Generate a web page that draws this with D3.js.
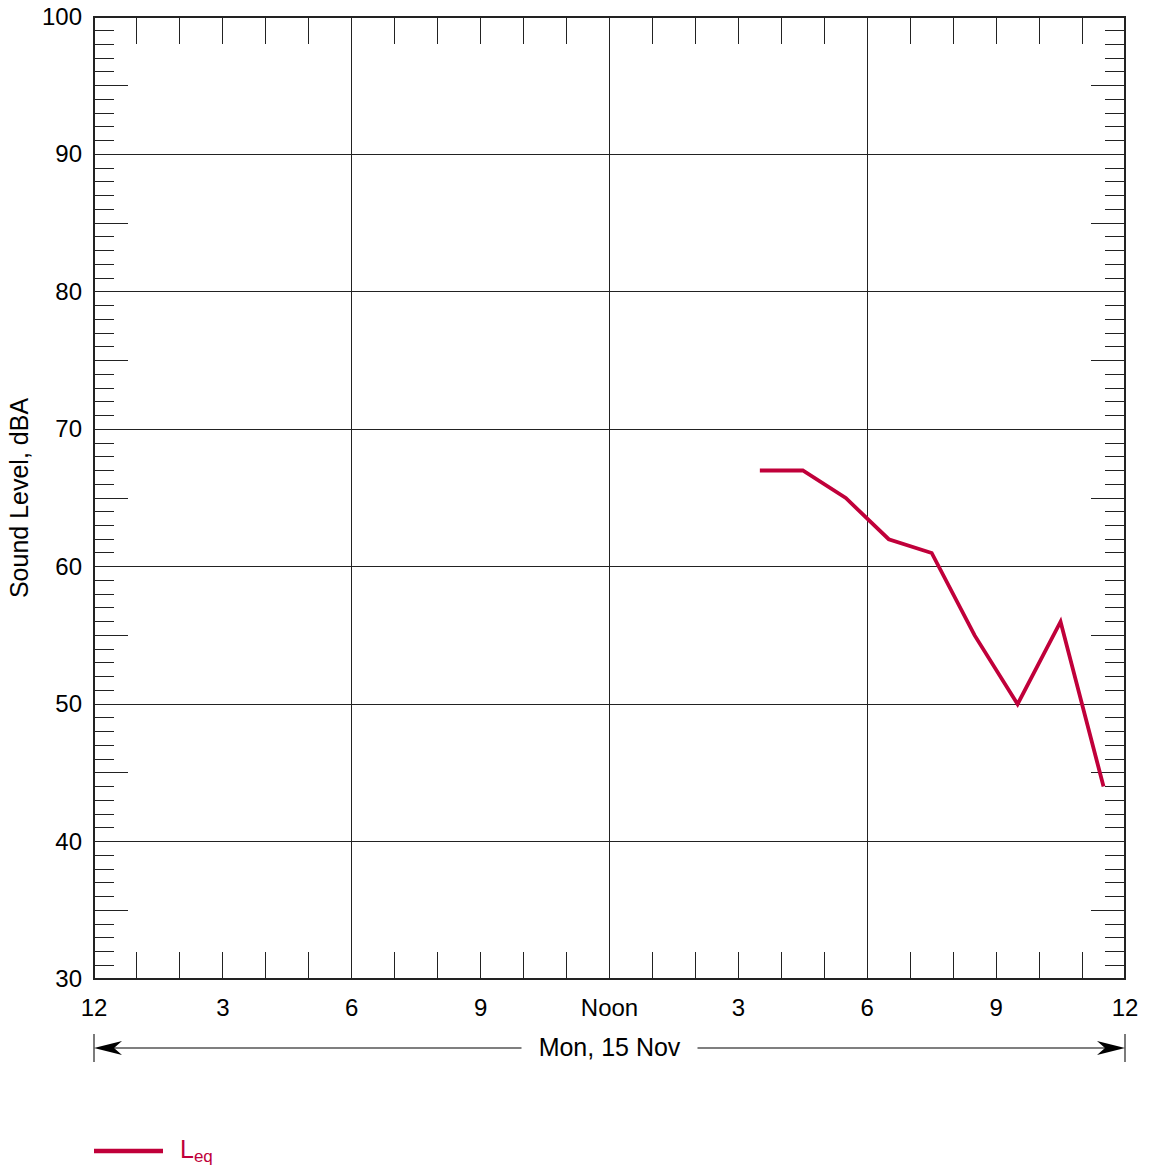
<!DOCTYPE html>
<html><head><meta charset="utf-8">
<script src="https://cdn.jsdelivr.net/npm/d3@7"></script>
<style>body{margin:0;background:#fff}svg{display:block;font-family:"Liberation Sans",Arial,sans-serif}</style>
</head><body><svg id="c" width="1152" height="1168"></svg>
<script>
const hours = [15.5, 16.5, 17.5, 18.5, 19.5, 20.5, 21.5, 22.5, 23.5];
const leq = [67, 67, 65, 62, 61, 55, 50, 56, 44];
const xTickHours = [0, 3, 6, 9, 12, 15, 18, 21, 24];
const xTickLabels = ["12", "3", "6", "9", "Noon", "3", "6", "9", "12"];
const xGridHours = [6, 12, 18];
const yTicks = [30, 40, 50, 60, 70, 80, 90, 100];
const dayLabel = "Mon, 15 Nov";
const yTitle = "Sound Level, dBA";
const seriesName = "L", seriesSub = "eq";

const svg = d3.select("#c");
const L = 94, R = 1125, T = 17, B = 979;
const x = d3.scaleLinear().domain([0, 24]).range([L, R]);
const y = d3.scaleLinear().domain([30, 100]).range([B, T]);
const red = "#c0003a", ink = "#222";
const FS = 24, FT = 25;

const g = svg.append("g");
// grid
g.selectAll(".gx").data(xGridHours).join("line")
  .attr("x1", d => x(d)).attr("x2", d => x(d)).attr("y1", T).attr("y2", B)
  .attr("stroke", ink).attr("stroke-width", 1).attr("shape-rendering", "crispEdges");
g.selectAll(".gy").data(yTicks.slice(1, -1)).join("line")
  .attr("y1", d => y(d)).attr("y2", d => y(d)).attr("x1", L).attr("x2", R)
  .attr("stroke", ink).attr("stroke-width", 1).attr("shape-rendering", "crispEdges");

// hourly x ticks (top & bottom, inside)
const hrs = d3.range(1, 24).filter(h => h % 6 !== 0);
g.selectAll(".tt").data(hrs).join("line")
  .attr("x1", d => x(d)).attr("x2", d => x(d)).attr("y1", T).attr("y2", T + 27)
  .attr("stroke", ink).attr("shape-rendering", "crispEdges");
g.selectAll(".tb").data(hrs).join("line")
  .attr("x1", d => x(d)).attr("x2", d => x(d)).attr("y1", B).attr("y2", B - 27)
  .attr("stroke", ink).attr("shape-rendering", "crispEdges");

// minor y ticks (1 dB), longer at 5s
const dbs = d3.range(31, 100).filter(v => v % 10 !== 0);
const len = v => v % 5 === 0 ? 34 : 20;
g.selectAll(".tl").data(dbs).join("line")
  .attr("y1", d => y(d)).attr("y2", d => y(d)).attr("x1", L).attr("x2", d => L + len(d))
  .attr("stroke", ink).attr("shape-rendering", "crispEdges");
g.selectAll(".tr").data(dbs).join("line")
  .attr("y1", d => y(d)).attr("y2", d => y(d)).attr("x1", R).attr("x2", d => R - len(d))
  .attr("stroke", ink).attr("shape-rendering", "crispEdges");

// frame
g.append("rect").attr("x", L).attr("y", T).attr("width", R - L).attr("height", B - T)
  .attr("fill", "none").attr("stroke", ink).attr("stroke-width", 1.2).attr("shape-rendering", "crispEdges");

// axis labels
svg.append("g").selectAll("text").data(yTicks).join("text")
  .attr("x", 82).attr("y", d => y(d) + 8).attr("text-anchor", "end")
  .attr("font-size", FS).attr("fill", "#000").text(d => d);
svg.append("g").selectAll("text").data(xTickHours).join("text")
  .attr("x", d => x(d)).attr("y", 1016).attr("text-anchor", "middle")
  .attr("font-size", FS).attr("fill", "#000").text((d, i) => xTickLabels[i]);

svg.append("text").attr("transform", `translate(28,${(T + B) / 2}) rotate(-90)`)
  .attr("text-anchor", "middle").attr("font-size", FT).attr("fill", "#000").text(yTitle);

// day arrow
const ay = 1048;
svg.append("line").attr("x1", L).attr("x2", L).attr("y1", ay - 14).attr("y2", ay + 14).attr("stroke", ink).attr("stroke-width", 1.2);
svg.append("line").attr("x1", R).attr("x2", R).attr("y1", ay - 14).attr("y2", ay + 14).attr("stroke", ink).attr("stroke-width", 1.2);
svg.append("line").attr("x1", L + 4).attr("x2", x(12) - 88).attr("y1", ay).attr("y2", ay).attr("stroke", "#000").attr("stroke-width", 1.2);
svg.append("line").attr("x1", x(12) + 88).attr("x2", R - 4).attr("y1", ay).attr("y2", ay).attr("stroke", "#000").attr("stroke-width", 1.2);
svg.append("path").attr("d", `M${L},${ay} L${L + 28},${ay - 7} L${L + 20},${ay} L${L + 28},${ay + 7} Z`).attr("fill", "#000");
svg.append("path").attr("d", `M${R},${ay} L${R - 28},${ay - 7} L${R - 20},${ay} L${R - 28},${ay + 7} Z`).attr("fill", "#000");
svg.append("text").attr("x", x(12)).attr("y", ay + 8).attr("text-anchor", "middle")
  .attr("font-size", FT).attr("fill", "#000").text(dayLabel);

// data line
const data = hours.map((h, i) => [h, leq[i]]);
svg.append("path").datum(data)
  .attr("d", d3.line().x(d => x(d[0])).y(d => y(d[1])))
  .attr("fill", "none").attr("stroke", red).attr("stroke-width", 3.8).attr("stroke-linejoin", "miter");

// legend
svg.append("line").attr("x1", 94).attr("x2", 163).attr("y1", 1151).attr("y2", 1151)
  .attr("stroke", red).attr("stroke-width", 4.5);
const lt = svg.append("text").attr("x", 180).attr("y", 1158).attr("font-size", FT).attr("fill", red);
lt.append("tspan").text(seriesName);
lt.append("tspan").attr("font-size", 17).attr("dy", 4).text(seriesSub);
</script></body></html>
